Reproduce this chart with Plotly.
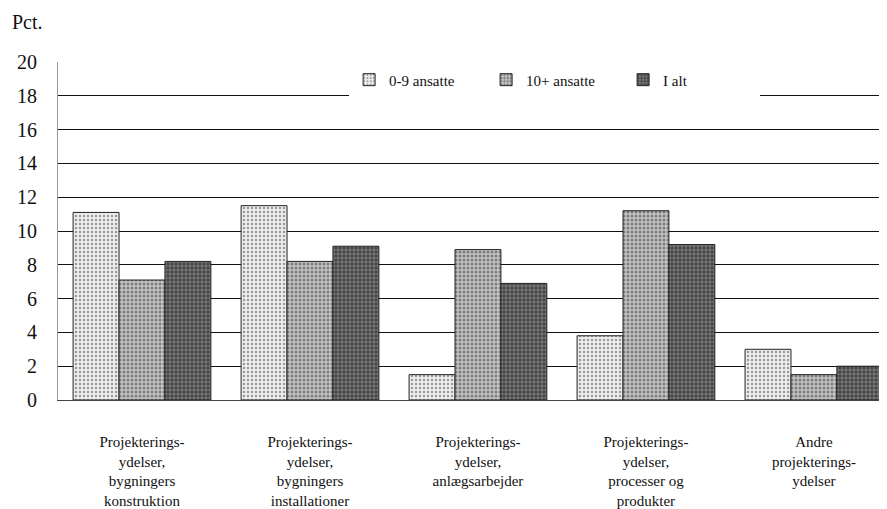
import plotly.graph_objects as go

categories = [
    "Projekterings-<br>ydelser,<br>bygningers<br>konstruktion",
    "Projekterings-<br>ydelser,<br>bygningers<br>installationer",
    "Projekterings-<br>ydelser,<br>anlægsarbejder",
    "Projekterings-<br>ydelser,<br>processer og<br>produkter",
    "Andre<br>projekterings-<br>ydelser",
]
series_names = ["0-9 ansatte", "10+ ansatte", "I alt"]
small = [11.1, 11.5, 1.5, 3.8, 3.0]
large = [7.1, 8.2, 8.9, 11.2, 1.5]
total = [8.2, 9.1, 6.9, 9.2, 2.0]
y_ticks = [0, 2, 4, 6, 8, 10, 12, 14, 16, 18, 20]

serif = "Liberation Serif"
styles = [
    dict(bg="#eeeeee", fg="#444444", sol=0.3),
    dict(bg="#c4c4c4", fg="#333333", sol=0.45),
    dict(bg="#7a7a7a", fg="#111111", sol=0.55),
]

fig = go.Figure()
for name, vals, st in zip(series_names, [small, large, total], styles):
    fig.add_trace(go.Bar(
        name=name, x=categories, y=vals,
        marker=dict(
            color=st["bg"],
            line=dict(color="#222222", width=1),
            pattern=dict(shape=".", bgcolor=st["bg"], fgcolor=st["fg"],
                         size=4, solidity=st["sol"], fillmode="overlay"),
        ),
    ))

fig.update_layout(
    width=879, height=501,
    margin=dict(l=50, r=2, t=54, b=109),
    paper_bgcolor="white", plot_bgcolor="white",
    barmode="group", bargap=0.18, bargroupgap=0,
    font=dict(family=serif, color="#111111"),
    showlegend=True,
    legend=dict(
        orientation="h", x=0.352, y=0.947, xanchor="left", yanchor="middle",
        bgcolor="white", font=dict(size=15, family=serif),
        itemwidth=30, traceorder="normal",
        entrywidth=92, entrywidthmode="pixels",
    ),
    xaxis=dict(
        tickfont=dict(size=15, family=serif), showgrid=False,
        showline=True, linecolor="#444444", linewidth=1, ticks="",
        automargin=False, ticklabelstandoff=28,
        range=[-0.5, 4.423],
    ),
    yaxis=dict(
        range=[0, 20], tickvals=y_ticks, ticktext=[str(v) for v in y_ticks],
        tickfont=dict(size=20, family=serif),
        showgrid=True, gridcolor="#111111", gridwidth=1,
        showline=True, linecolor="#999999", linewidth=1,
        zeroline=False, ticklabelstandoff=16, automargin=False,
    ),
    annotations=[dict(
        text="Pct.", xref="paper", yref="paper", x=-0.058, y=1.118,
        xanchor="left", yanchor="middle", showarrow=False,
        font=dict(size=20, family=serif),
    )],
)

fig.write_html("out.html")
